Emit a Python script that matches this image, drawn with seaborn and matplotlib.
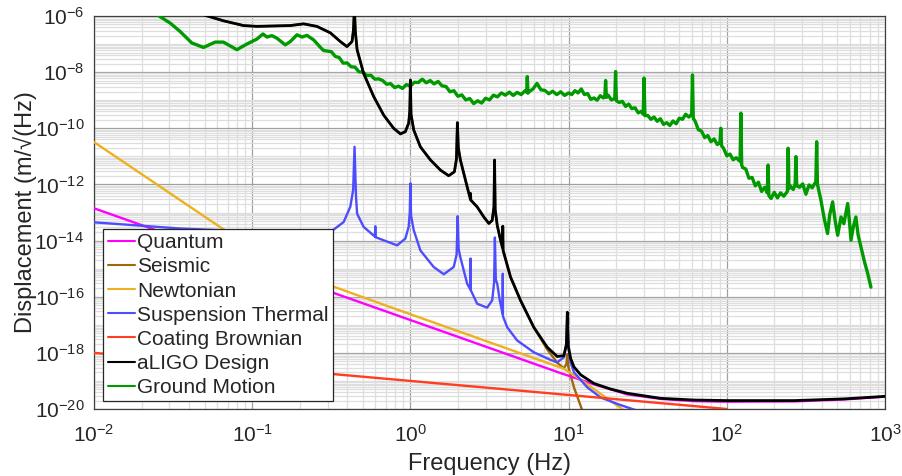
import numpy as np
import matplotlib
matplotlib.use("Agg")
import matplotlib.pyplot as plt
from matplotlib.ticker import FixedLocator, FixedFormatter, LogLocator, NullFormatter
import seaborn as sns

# ---- noise curves, stored as log10(frequency / Hz) and log10(displacement / m/sqrt(Hz)) ----
quantum_lf = [-2.0, 0.949, 1.160, 1.371, 1.582, 1.793, 2.004, 2.426, 2.742, 3.0]
quantum_ld = [-12.85, -18.72, -19.12, -19.48, -19.64, -19.72, -19.74, -19.73, -19.66, -19.56]

newtonian_lf = [-2.0, -1.192, -1.0, -0.82, -0.65, -0.496, -0.127, 0.968, 1.05, 1.16, 1.25, 1.346, 1.40]
newtonian_ld = [-10.49, -13.56, -14.28, -14.85, -15.30, -15.62, -16.37, -18.56, -18.85, -19.29, -19.65, -20.03, -20.3]

coating_lf = [-2.0, 2.0]
coating_ld = [-18.0, -20.0]

susp_lf = [-2.0, -1.456, -1.0, -0.55, -0.506, -0.422, -0.380, -0.362, -0.353, -0.344, -0.337,
           -0.296, -0.224, -0.222, -0.220, -0.169, -0.084, -0.032, -0.011, -0.004, 0.0, 0.004,
           0.021, 0.063, 0.147, 0.211, 0.274, 0.292, 0.299, 0.305, 0.316, 0.359, 0.379, 0.380,
           0.381, 0.422, 0.485, 0.517, 0.529, 0.534, 0.540, 0.549, 0.565, 0.583, 0.584, 0.585,
           0.612, 0.675, 0.780, 0.886, 0.928, 0.970, 0.986, 0.992, 0.998, 1.013, 1.034, 1.118,
           1.203, 1.308, 1.418, 1.47]
susp_ld = [-13.35, -13.57, -13.68, -13.75, -13.70, -13.34, -12.80, -12.2, -10.66, -12.4, -13.04,
           -13.51, -13.86, -13.49, -13.88, -13.99, -14.17, -13.93, -13.51, -13.0, -11.96, -13.1,
           -13.63, -14.35, -14.94, -15.20, -14.94, -14.5, -13.13, -14.3, -14.6, -15.54, -15.74, -14.64,
           -15.76, -16.25, -16.39, -16.13, -15.5, -13.89, -15.4, -15.54, -16.13, -16.62, -15.18, -16.70,
           -17.09, -17.56, -17.98, -18.25, -18.34, -18.16, -17.7, -16.6, -17.8, -18.35, -18.69, -19.23,
           -19.59, -19.82, -20.03, -20.2]

aligo_lf = [-1.30, -1.182, -1.055, -0.970, -0.759, -0.675, -0.591, -0.506, -0.443, -0.401, -0.369,
            -0.360, -0.354, -0.348, -0.337, -0.296, -0.232, -0.169, -0.106, -0.063, -0.032, -0.011,
            -0.004, 0.0, 0.004, 0.021, 0.063, 0.127, 0.190, 0.242, 0.278, 0.291, 0.297, 0.303,
            0.316, 0.359, 0.379, 0.380, 0.382, 0.422, 0.464, 0.496, 0.517, 0.528, 0.532, 0.536,
            0.549, 0.570, 0.582, 0.584, 0.586, 0.633, 0.696, 0.780, 0.865, 0.928, 0.970, 0.986,
            0.992, 0.998, 1.013, 1.034, 1.076, 1.160, 1.266, 1.371, 1.582, 1.793, 2.004, 2.426,
            2.742, 3.0]
aligo_ld = [-5.97, -6.17, -6.34, -6.37, -6.34, -6.28, -6.37, -6.60, -6.91, -7.09, -6.91,
            -6.50, -5.70, -6.55, -7.20, -8.04, -8.87, -9.53, -10.00, -10.20, -10.12, -9.82,
            -9.40, -8.28, -9.50, -10.06, -10.66, -11.13, -11.49, -11.69, -11.55, -11.10, -9.80, -10.70,
            -11.13, -12.09, -12.52, -12.32, -12.56, -12.80, -13.16, -13.39, -13.28, -12.80, -11.13, -12.90,
            -13.46, -13.99, -14.25, -13.49, -14.35, -15.30, -16.13, -17.09, -17.80, -18.13, -18.10, -17.70,
            -16.55, -17.75, -18.20, -18.50, -18.78, -19.09, -19.29, -19.44, -19.62, -19.68, -19.70, -19.70,
            -19.64, -19.55]

# seismic follows the design curve below ~6 Hz, then falls away steeply
seismic_split = aligo_lf.index(0.780) + 1
seismic_lf = aligo_lf[:seismic_split] + [0.865, 0.928, 0.970, 0.986, 0.992, 0.998, 1.013, 1.034, 1.087, 1.10]
seismic_ld = aligo_ld[:seismic_split] + [-17.88, -18.35, -18.55, -18.40, -18.05, -18.50, -18.80, -19.23, -20.06, -20.3]

# measured ground motion spectrum (noisy, with line features)
ground_lf = [
    -1.60, -1.519, -1.456, -1.382, -1.308, -1.234, -1.182, -1.097, -1.034, -0.970, -0.932,
    -0.907, -0.875, -0.844, -0.791, -0.759, -0.717, -0.685, -0.654, -0.612, -0.570, -0.549,
    -0.500, -0.475, -0.450, -0.425, -0.400, -0.375, -0.350, -0.325, -0.300, -0.275, -0.250,
    -0.225, -0.200, -0.175, -0.150, -0.125, -0.100, -0.075, -0.050, -0.025, 0.000, 0.025,
    0.050, 0.075, 0.100, 0.125, 0.150, 0.175, 0.200, 0.225, 0.250, 0.275, 0.300, 0.325,
    0.350, 0.375, 0.400, 0.425, 0.450, 0.475, 0.500, 0.525, 0.550, 0.575, 0.600, 0.625,
    0.650, 0.675, 0.700, 0.725, 0.735, 0.739, 0.743, 0.750, 0.775, 0.800, 0.825, 0.850,
    0.875, 0.900, 0.925, 0.950, 0.975, 1.000,
    1.020, 1.040, 1.060, 1.080, 1.100, 1.120, 1.140, 1.160, 1.180, 1.200, 1.220, 1.229,
    1.234, 1.239, 1.250, 1.270, 1.292, 1.297, 1.302, 1.320, 1.340, 1.360, 1.380, 1.400,
    1.420, 1.440, 1.460, 1.472, 1.477, 1.482, 1.500, 1.520, 1.540, 1.560, 1.580, 1.600,
    1.620, 1.640, 1.660, 1.680, 1.700, 1.720, 1.740, 1.760, 1.778, 1.783, 1.788, 1.800,
    1.820, 1.840, 1.860, 1.880, 1.900, 1.920, 1.940, 1.957, 1.962, 1.967, 1.980, 2.000,
    2.020, 2.040, 2.060, 2.084, 2.089, 2.094, 2.100, 2.120, 2.140, 2.160, 2.180, 2.200,
    2.220, 2.240, 2.256, 2.261, 2.266, 2.280, 2.300, 2.320, 2.340, 2.360, 2.383, 2.388,
    2.393, 2.400, 2.420, 2.432, 2.437, 2.442, 2.460, 2.480, 2.500, 2.520, 2.540, 2.563,
    2.568, 2.573, 2.595, 2.615, 2.637, 2.650, 2.669, 2.685, 2.701, 2.722, 2.740, 2.764,
    2.775, 2.785, 2.800, 2.816, 2.830, 2.848, 2.870, 2.891, 2.911]
ground_ld = [
    -5.96, -6.25, -6.55, -6.96, -7.12, -6.93, -6.93, -7.20, -7.00, -6.82, -6.64,
    -6.75, -6.70, -6.79, -7.03, -6.91, -6.67, -6.75, -6.69, -6.85, -7.11, -7.23,
    -7.27, -7.44, -7.48, -7.68, -7.67, -7.81, -7.82, -7.99, -8.00, -8.12, -8.11,
    -8.25, -8.24, -8.30, -8.43, -8.41, -8.55, -8.50, -8.58, -8.44, -8.50, -8.36,
    -8.37, -8.25, -8.38, -8.30, -8.42, -8.33, -8.49, -8.51, -8.70, -8.66, -8.86, -8.81,
    -8.99, -8.94, -9.12, -9.02, -9.10, -8.93, -8.99, -8.82, -8.88, -8.74, -8.82, -8.71,
    -8.83, -8.72, -8.80, -8.66, -8.72, -8.16, -8.75, -8.70, -8.60, -8.40, -8.63, -8.65,
    -8.77, -8.68, -8.80, -8.70, -8.83, -8.74,
    -8.80, -8.66, -8.74, -8.60, -8.80, -8.76, -8.97, -8.92, -9.00, -8.84, -8.92, -8.86,
    -8.30, -8.90, -8.82, -8.99, -8.94, -7.98, -9.02, -9.08, -9.04, -9.22, -9.14, -9.30,
    -9.27, -9.45, -9.40, -9.50, -8.21, -9.55, -9.54, -9.68, -9.60, -9.75, -9.66, -9.86,
    -9.80, -9.90, -9.74, -9.84, -9.64, -9.68, -9.50, -9.60, -9.50, -8.10, -9.65, -9.75,
    -10.05, -10.10, -10.33, -10.26, -10.48, -10.38, -10.58, -10.50, -10.00, -10.62, -10.72, -10.98,
    -10.92, -11.12, -11.05, -11.18, -9.46, -11.30, -11.40, -11.45, -11.78, -11.75, -12.05, -11.92,
    -12.25, -12.10, -12.30, -11.31, -12.40, -12.50, -12.28, -12.48, -12.30, -12.42, -12.25, -10.71,
    -12.15, -12.05, -12.18, -12.00, -11.01, -12.05, -12.10, -11.98, -12.35, -12.02, -12.12, -11.90,
    -10.48, -12.00, -12.56, -13.20, -13.75, -13.10, -12.62, -13.30, -13.81, -13.16, -13.40, -12.68,
    -13.30, -13.99, -13.50, -13.16, -13.80, -14.23, -14.75, -15.18, -15.66]

x_tick_exps = [-2, -1, 0, 1, 2, 3]
y_tick_exps = [-20, -18, -16, -14, -12, -10, -8, -6]

series = [
    ("Quantum", quantum_lf, quantum_ld, "#FF00FF", 1.7, 3),
    ("Seismic", seismic_lf, seismic_ld, "#A0660A", 1.7, 2),
    ("Newtonian", newtonian_lf, newtonian_ld, "#EDB120", 1.7, 3),
    ("Suspension Thermal", susp_lf, susp_ld, "#4D4DFF", 1.7, 3),
    ("Coating Brownian", coating_lf, coating_ld, "#FF3D1F", 1.7, 3),
    ("aLIGO Design", aligo_lf, aligo_ld, "#000000", 2.0, 6),
    ("Ground Motion", ground_lf, ground_ld, "#009900", 2.4, 5),
]

sns.set_theme(style="white")
plt.rcParams["font.family"] = ["Liberation Sans", "DejaVu Sans"]
plt.rcParams["mathtext.fontset"] = "custom"
plt.rcParams["mathtext.rm"] = "Liberation Sans"
plt.rcParams["mathtext.it"] = "Liberation Sans:italic"
plt.rcParams["mathtext.bf"] = "Liberation Sans:bold"

fig = plt.figure(figsize=(9.03, 4.76), dpi=100)
ax = fig.add_axes([94 / 903, 1 - 409 / 476, 791 / 903, 393 / 476])

for label, lf, ld, color, lw, z in series:
    sns.lineplot(x=10.0 ** np.asarray(lf), y=10.0 ** np.asarray(ld), ax=ax,
                 color=color, lw=lw, label=label, estimator=None, sort=False, zorder=z)

ax.set_xscale("log")
ax.set_yscale("log")
ax.set_xlim(1e-2, 1e3)
ax.set_ylim(1e-20, 1e-6)

ax.xaxis.set_major_locator(FixedLocator([10.0 ** e for e in x_tick_exps]))
ax.xaxis.set_major_formatter(FixedFormatter([r"$10^{%d}$" % e for e in x_tick_exps]))
ax.yaxis.set_major_locator(FixedLocator([10.0 ** e for e in y_tick_exps]))
ax.yaxis.set_major_formatter(FixedFormatter([r"$10^{%d}$" % e for e in y_tick_exps]))
ax.xaxis.set_minor_locator(LogLocator(base=10, subs=np.arange(1, 10), numticks=100))
ax.yaxis.set_minor_locator(LogLocator(base=10, subs=np.arange(1, 10), numticks=200))
ax.xaxis.set_minor_formatter(NullFormatter())
ax.yaxis.set_minor_formatter(NullFormatter())

ax.grid(True, which="major", color="#a0a0a0", lw=0.9, zorder=0)
ax.grid(True, which="minor", color="#dedede", lw=0.9, zorder=0)
ax.set_axisbelow(True)

for s in ax.spines.values():
    s.set_color("#404040")
    s.set_linewidth(0.9)
ax.tick_params(axis="both", which="major", direction="in", length=4, width=0.8,
               color="#404040", labelsize=15, labelcolor="#262626")
ax.tick_params(axis="x", which="major", pad=11)
ax.tick_params(axis="y", which="major", pad=7)
ax.tick_params(axis="both", which="minor", direction="in", length=2, width=0.6, color="#404040")

ax.set_xlabel("Frequency (Hz)", fontsize=17, color="#262626", labelpad=5)
ax.set_ylabel("Displacement (m/\u221a(Hz)", fontsize=17, color="#262626", labelpad=-2)

handles, labels = ax.get_legend_handles_labels()
leg = ax.legend(handles, labels, loc="lower left", bbox_to_anchor=(0.0118, 0.02),
                fontsize=15, frameon=True, fancybox=False, framealpha=1,
                edgecolor="#262626", handlelength=1.3, handletextpad=0.12,
                labelspacing=0.245, borderpad=0.2, borderaxespad=0)
leg.get_frame().set_linewidth(0.9)
for line in leg.get_lines():
    line.set_linewidth(1.5)
leg.set_zorder(10)

fig.savefig("out.png", dpi=100)
